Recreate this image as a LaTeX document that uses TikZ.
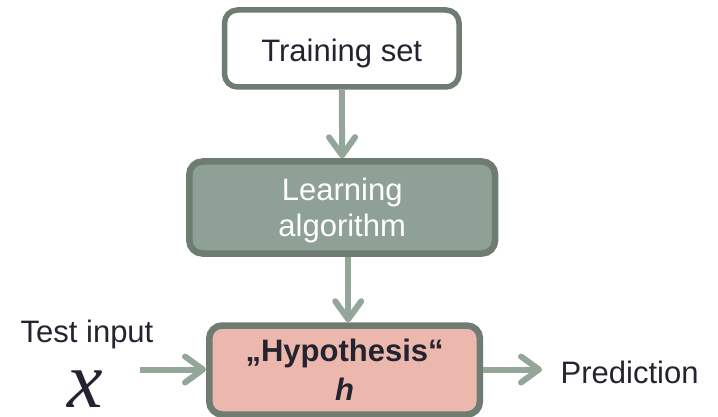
\documentclass[tikz,border=0pt]{standalone}
\usepackage{fontspec}
\setmainfont{Liberation Sans}
\newfontfamily\serifface{Liberation Serif}
\usetikzlibrary{arrows.meta,calc}
\definecolor{edge}{RGB}{110,124,114}
\definecolor{sage}{RGB}{143,160,150}
\definecolor{flow}{RGB}{147,166,153}
\definecolor{salmon}{RGB}{236,184,174}
\definecolor{ink}{RGB}{36,36,48}
\begin{document}
\begin{tikzpicture}[x=1pt,y=-1pt,
  box/.style={draw=edge, rounded corners=13pt, inner sep=0pt, align=center, text=ink},
  flowarrow/.style={draw=flow, line width=6pt, -{Straight Barb[length=18pt,width=26pt,round]}},
  plaintext/.style={font=\fontsize{31}{36}\selectfont, text=ink, inner sep=0pt}]
\useasboundingbox[fill=white] (0,0) rectangle (718,417);

% the three stages
\node[box, line width=5.5pt, minimum width=234.5pt, minimum height=77pt,
      font=\fontsize{31}{36}\selectfont, text height=27pt, text depth=0pt]
  (train) at (341.75,48.5) {Training set};
\node[box, line width=6.5pt, fill=sage, text=white, minimum width=305.7pt, minimum height=92pt,
      font=\fontsize{31}{35.5}\selectfont, text depth=-2pt]
  (learn) at (342.2,207.5) {Learning\\algorithm};
\node[box, line width=6.5pt, fill=salmon, minimum width=270.7pt, minimum height=89pt,
      font=\fontsize{31}{38.5}\selectfont\bfseries, text depth=-3pt]
  (hyp) at (344.6,370) {„Hypothesis“\\{\itshape h}};

% input and output labels
\node[plaintext, anchor=base west] (testin) at (20.5,342) {Test input};
\node[plaintext, anchor=base, font=\fontsize{80}{80}\serifface\itshape] (xin) at (85.5,407) {x};
\node[plaintext, anchor=base west] (pred) at (560.5,383) {Prediction};

% connectors
\coordinate (instart) at (140,369.5);
\coordinate (outend) at (542,369.5);
\draw[flowarrow] (train.south) -- (learn.north);
\draw[flowarrow] ([xshift=6pt]learn.south) -- ([xshift=6pt]learn.south |- hyp.north);
\draw[flowarrow] (instart) -- (instart -| hyp.west);
\draw[flowarrow] (outend -| hyp.east) -- (outend);
\end{tikzpicture}
\end{document}
